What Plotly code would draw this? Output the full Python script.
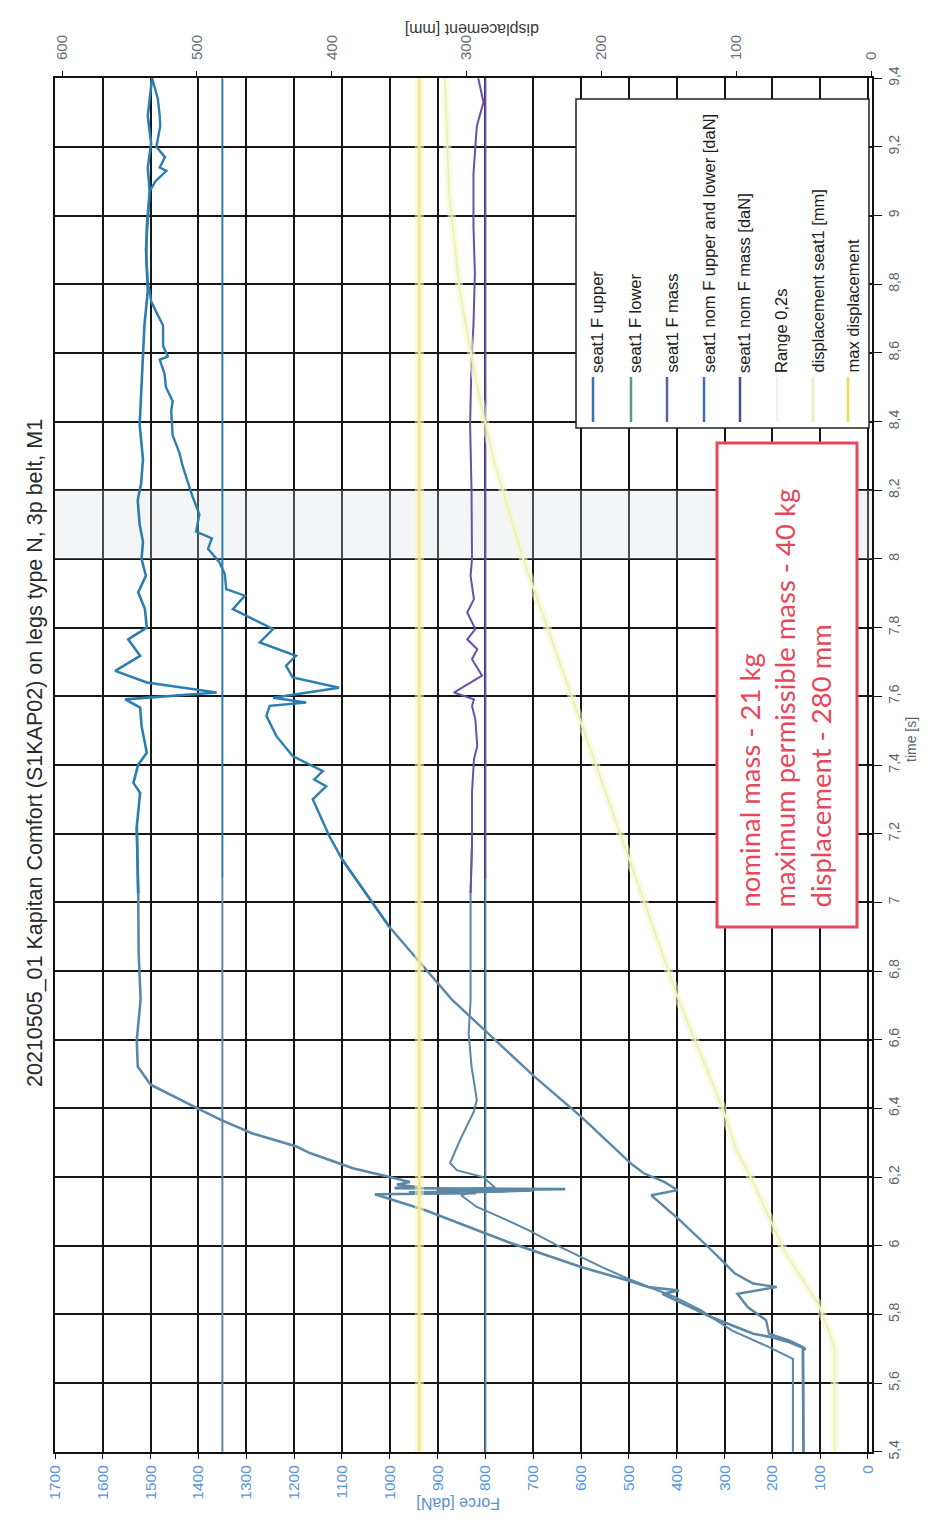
import plotly.graph_objects as go

# ---------------- data ----------------
TITLE = "20210505_01 Kapitan Comfort (S1KAP02) on legs type N, 3p belt, M1"

# seat1 F upper [daN]
F_UPPER_T = [5.40, 5.69, 5.695, 5.70, 5.719, 5.734, 5.744, 5.792, 5.86, 5.87, 5.88, 5.899,
             5.938, 6.011, 6.104, 6.150, 6.153, 6.156, 6.159, 6.162, 6.165, 6.168, 6.171,
             6.178, 6.186, 6.198, 6.226, 6.27, 6.289, 6.327, 6.366, 6.40, 6.469, 6.522,
             6.60, 6.717, 6.85, 7.027, 7.221, 7.319, 7.348, 7.401, 7.436, 7.513, 7.567,
             7.591, 7.611, 7.64, 7.674, 7.718, 7.766, 7.80, 7.854, 7.903, 7.951, 8.0,
             8.05, 8.10, 8.17, 8.22, 8.29, 8.39, 8.49, 8.58, 8.68, 8.78, 8.88, 8.97,
             9.07, 9.14, 9.21, 9.29, 9.40]
F_UPPER = [135, 135, 136, 131, 164, 202, 240, 327, 430, 395, 460, 502,
           600, 753, 927, 1031, 820, 960, 760, 900, 633, 990, 943,
           985, 958, 994, 1077, 1167, 1195, 1287, 1352, 1402, 1500, 1527,
           1529, 1521, 1525, 1526, 1529, 1522, 1536, 1526, 1508, 1519, 1522,
           1553, 1362, 1508, 1574, 1522, 1547, 1508, 1512, 1526, 1510, 1519,
           1516, 1523, 1527, 1520, 1516, 1523, 1520, 1516, 1513, 1506, 1509, 1508,
           1502, 1506, 1499, 1506, 1497]

# seat1 F lower [daN]
F_LOWER_T = [5.40, 5.69, 5.705, 5.724, 5.744, 5.783, 5.821, 5.860, 5.880, 5.890, 5.919,
             5.987, 6.074, 6.147, 6.162, 6.186, 6.211, 6.240, 6.376, 6.493, 6.619, 6.717,
             6.929, 7.124, 7.192, 7.30, 7.338, 7.358, 7.382, 7.406, 7.426, 7.484, 7.543,
             7.572, 7.582, 7.596, 7.625, 7.655, 7.689, 7.718, 7.757, 7.796, 7.825, 7.854,
             7.893, 7.912, 7.956, 7.99, 8.03, 8.06, 8.08, 8.13, 8.18, 8.27, 8.31, 8.36,
             8.43, 8.46, 8.50, 8.54, 8.58, 8.59, 8.62, 8.68, 8.71, 8.75, 8.78, 8.80,
             8.90, 8.97, 9.07, 9.10, 9.13, 9.14, 9.17, 9.20, 9.26, 9.29, 9.34, 9.40]
F_LOWER = [135, 135, 136, 164, 207, 213, 251, 273, 191, 240, 278,
           327, 393, 453, 398, 426, 469, 496, 600, 698, 796, 870,
           1001, 1099, 1126, 1161, 1133, 1158, 1140, 1175, 1203, 1237, 1258,
           1251, 1175, 1244, 1106, 1203, 1217, 1196, 1272, 1244, 1286, 1328,
           1303, 1342, 1345, 1356, 1380, 1372, 1405, 1398, 1412, 1433, 1440, 1454,
           1457, 1454, 1468, 1471, 1481, 1464, 1474, 1474, 1485, 1499, 1502, 1506,
           1510, 1507, 1502, 1490, 1467, 1481, 1470, 1488, 1480, 1481, 1485, 1497]

# seat1 F mass [daN]
F_MASS_T = [5.40, 5.671, 5.705, 5.753, 5.812, 5.851, 5.904, 5.938, 5.997, 6.045, 6.084,
            6.113, 6.147, 6.155, 6.160, 6.165, 6.170, 6.20, 6.22, 6.241, 6.308, 6.391,
            6.425, 6.522, 6.619, 6.715, 7.027, 7.17, 7.32, 7.416, 7.455, 7.533, 7.572,
            7.591, 7.611, 7.63, 7.66, 7.708, 7.737, 7.766, 7.796, 7.844, 7.883, 7.951,
            8.0, 8.2, 8.39, 8.58, 8.68, 8.83, 8.97, 9.12, 9.26, 9.33, 9.40]
F_MASS = [157, 157, 207, 284, 349, 404, 502, 556, 644, 709, 770,
          818, 851, 830, 700, 850, 780, 805, 860, 874, 853, 824,
          818, 829, 835, 831, 831, 828, 828, 824, 817, 821, 828,
          824, 866, 842, 807, 828, 817, 838, 821, 838, 824, 831,
          828, 829, 832, 829, 825, 822, 825, 825, 818, 804, 815]

# displacement seat1 [mm]
DISP_T = [5.40, 5.70, 5.75, 5.83, 5.97, 6.0, 6.19, 6.28, 6.40, 6.72, 7.0, 7.2, 7.4,
          7.6, 7.8, 8.0, 8.29, 8.5, 8.78, 9.07, 9.4]
DISP = [27, 27, 31, 39, 62, 66, 88, 100, 110, 143, 168, 186, 204,
        222, 240, 258, 280, 292, 305, 313, 316]

NOM_F_UPPER_LOWER = 1350   # daN
NOM_F_MASS = 800           # daN
MAX_DISPLACEMENT = 335     # mm
RANGE_START, RANGE_END = 8.0, 8.2   # s

T_MIN, T_MAX = 5.4, 9.4
TIME_TICKS = [5.4, 5.6, 5.8, 6.0, 6.2, 6.4, 6.6, 6.8, 7.0, 7.2, 7.4, 7.6, 7.8,
              8.0, 8.2, 8.4, 8.6, 8.8, 9.0, 9.2, 9.4]
TIME_TICK_TEXT = ["5,4", "5,6", "5,8", "6", "6,2", "6,4", "6,6", "6,8", "7", "7,2",
                  "7,4", "7,6", "7,8", "8", "8,2", "8,4", "8,6", "8,8", "9", "9,2", "9,4"]
FORCE_TICKS = [0, 100, 200, 300, 400, 500, 600, 700, 800, 900, 1000, 1100, 1200,
               1300, 1400, 1500, 1600, 1700]
DISP_TICKS = [0, 100, 200, 300, 400, 500, 600]

LEGEND_LABELS = ["seat1 F upper", "seat1 F lower", "seat1 F mass",
                 "seat1 nom F upper and lower [daN]", "seat1 nom F mass [daN]",
                 "Range 0,2s", "displacement seat1 [mm]", "max displacement"]
NOTE_LINES = ["nominal mass - 21 kg", "maximum permissible mass - 40 kg",
              "displacement - 280 mm"]

# ---------------- styling ----------------
W, H = 930, 1526
L, R, T, B = 55, 872, 78, 1452          # plot area in pixels
T_SPLIT = 7.07                           # colour of printed traces shifts here

LOW_BLUE = "#5b88a6"
HIGH_BLUE = "#2c7db0"
HIGH_PURPLE = "#6a50a8"
GRID = "#161616"
FONT = "Liberation Sans, Arial, sans-serif"


def px(x):
    return (x - L) / (R - L)


def py(y):
    return (B - y) / (B - T)


def split(ts, vs):
    lo_t = [t for t in ts if t <= T_SPLIT]
    lo_v = [v for t, v in zip(ts, vs) if t <= T_SPLIT]
    k = len(lo_t)
    hi_t = ts[k - 1:]
    hi_v = vs[k - 1:]
    if k < len(ts):
        lo_t = lo_t + [ts[k]]
        lo_v = lo_v + [vs[k]]
    return (lo_t, lo_v), (hi_t, hi_v)


fig = go.Figure()

# Range 0,2s band
fig.add_trace(go.Scatter(
    x=[-8.4, 1700, 1700, -8.4, -8.4], y=[RANGE_START, RANGE_START, RANGE_END, RANGE_END, RANGE_START],
    fill="toself", fillcolor="rgba(215,220,226,0.28)", line=dict(width=0),
    mode="lines", hoverinfo="skip"))

# yellow displacement channels (soft printed halo + core)
for xs, ys, core, halo, wc, wh in [
    (DISP, DISP_T, "#eef0b6", "rgba(246,247,205,0.55)", 2.0, 8),
    ([MAX_DISPLACEMENT, MAX_DISPLACEMENT], [T_MIN, T_MAX], "#f3e98a", "rgba(248,244,190,0.55)", 2.6, 9),
]:
    fig.add_trace(go.Scatter(x=xs, y=ys, xaxis="x2", mode="lines",
                             line=dict(color=halo, width=wh), hoverinfo="skip"))
    fig.add_trace(go.Scatter(x=xs, y=ys, xaxis="x2", mode="lines",
                             line=dict(color=core, width=wc)))

# nominal force lines
for val, hi_col in [(NOM_F_UPPER_LOWER, HIGH_BLUE), (NOM_F_MASS, HIGH_PURPLE)]:
    fig.add_trace(go.Scatter(x=[val, val], y=[T_MIN, T_SPLIT], mode="lines",
                             line=dict(color=LOW_BLUE, width=2)))
    fig.add_trace(go.Scatter(x=[val, val], y=[T_SPLIT, T_MAX], mode="lines",
                             line=dict(color=hi_col, width=2)))

# measured forces
for ts, vs, hi_col, w in [(F_MASS_T, F_MASS, HIGH_PURPLE, 2.0),
                          (F_LOWER_T, F_LOWER, HIGH_BLUE, 2.4),
                          (F_UPPER_T, F_UPPER, HIGH_BLUE, 2.6)]:
    (lt, lv), (ht, hv) = split(ts, vs)
    fig.add_trace(go.Scatter(x=lv, y=lt, mode="lines",
                             line=dict(color=LOW_BLUE, width=w)))
    fig.add_trace(go.Scatter(x=hv, y=ht, mode="lines",
                             line=dict(color=hi_col, width=w)))

axis_common = dict(showline=True, linecolor="#111", linewidth=2, zeroline=False,
                   ticks="outside", tickcolor="#111", tickangle=-90, automargin=False)

fig.update_layout(
    width=W, height=H,
    margin=dict(l=L, r=W - R, t=T, b=H - B),
    paper_bgcolor="white", plot_bgcolor="white",
    showlegend=False,
    font=dict(family=FONT, color="#222"),
    xaxis=dict(range=[1700, -8.4], tickvals=FORCE_TICKS,
               ticktext=[str(v) for v in FORCE_TICKS],
               showgrid=True, gridcolor=GRID, gridwidth=1.6, mirror=True, ticklen=5,
               tickfont=dict(size=15.5, color="#5b95d6"), **axis_common),
    xaxis2=dict(range=[605.2, -0.74], overlaying="x", side="top", tickvals=DISP_TICKS,
                ticktext=[str(v) for v in DISP_TICKS], showgrid=False, ticklen=5,
                ticklabelstandoff=8,
                tickfont=dict(size=15, color="#67707a"), **axis_common),
    yaxis=dict(range=[T_MIN - 0.0005, T_MAX + 0.0005], side="right", tickvals=TIME_TICKS,
               ticktext=TIME_TICK_TEXT, showgrid=True, gridcolor=GRID, gridwidth=1.6,
               mirror=True, ticklen=8, tickfont=dict(size=14, color="#56666f"), **axis_common),
)

shapes = []
annotations = []

# title and axis titles
annotations.append(dict(text=TITLE, x=px(21), y=py(753), xref="paper", yref="paper",
                        showarrow=False, textangle=-90, font=dict(size=21.5, color="#2a2a2a")))
annotations.append(dict(text="Force [daN]", x=px(458), y=py(1514), xref="paper", yref="paper",
                        showarrow=False, textangle=180, font=dict(size=16, color="#5b8fd0")))
annotations.append(dict(text="displacement [mm]", x=px(472), y=py(19), xref="paper", yref="paper",
                        showarrow=False, textangle=180, font=dict(size=16, color="#3a3a3a")))
annotations.append(dict(text="time [s]", x=px(921), y=py(740), xref="paper", yref="paper",
                        showarrow=False, textangle=-90, font=dict(size=14, color="#5a6670")))

# legend box
shapes.append(dict(type="rect", xref="paper", yref="paper", x0=px(576), x1=px(869),
                   y0=py(428), y1=py(99), fillcolor="white", line=dict(color="#222", width=1.5),
                   layer="above"))
legend_x = [593, 631, 667, 704, 740, 777, 813, 848]
legend_col = ["#3d6db4", "#4e9e88", "#585fa6", "#3d6db4", "#45508f", "#eef1f4", "#eaeec0", "#f0da55"]
for lx, lab, col in zip(legend_x, LEGEND_LABELS, legend_col):
    shapes.append(dict(type="line", xref="paper", yref="paper", x0=px(lx), x1=px(lx),
                       y0=py(422), y1=py(377), line=dict(color=col, width=2.5), layer="above"))
    annotations.append(dict(text=lab, x=px(lx + 4), y=py(375), xref="paper", yref="paper",
                            xanchor="center", yanchor="bottom", showarrow=False, textangle=-90,
                            font=dict(size=16.5, color="#202020")))

# note box
shapes.append(dict(type="rect", xref="paper", yref="paper", x0=px(717), x1=px(857),
                   y0=py(927), y1=py(443), fillcolor="white", line=dict(color="#e6485a", width=3),
                   layer="above"))
annotations.append(dict(text="<br>".join(NOTE_LINES), x=px(785), y=py(910), xref="paper",
                        yref="paper", xanchor="center", yanchor="bottom", align="left",
                        showarrow=False, textangle=-90,
                        font=dict(family="Lato, Carlito, sans-serif", size=27.5, color="#e8475a")))

fig.update_layout(shapes=shapes, annotations=annotations)
fig.write_html("out.html")
